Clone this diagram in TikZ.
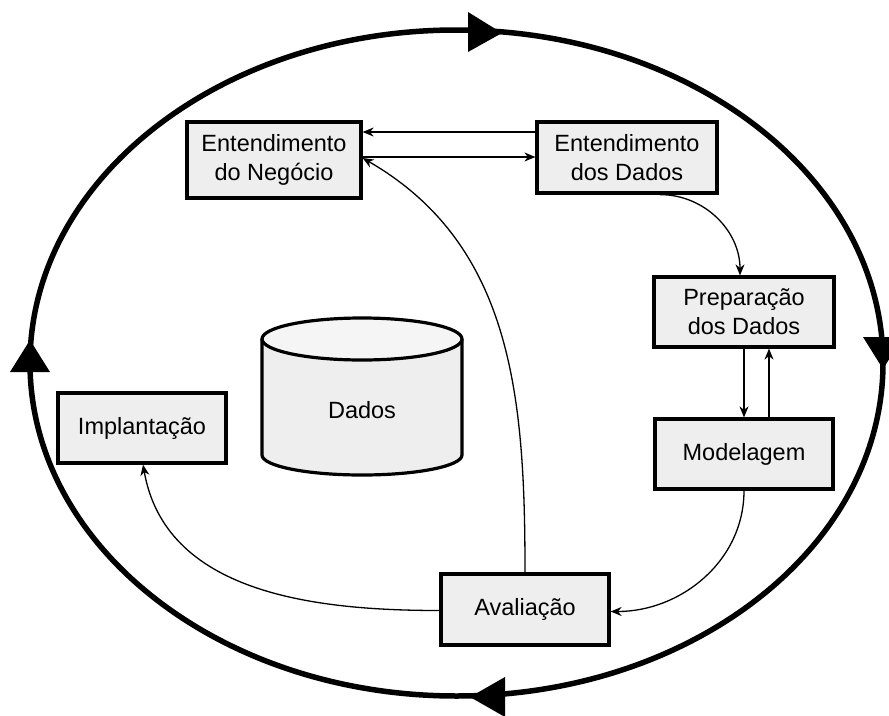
\documentclass[tikz,border=0pt]{standalone}
\usepackage{fontspec}
\setmainfont{Liberation Sans}
\usetikzlibrary{arrows.meta}
\definecolor{boxgray}{HTML}{EEEEEE}
\definecolor{topgray}{HTML}{F5F5F5}
\begin{document}
\begin{tikzpicture}[x=1pt,y=-1pt,
  stagebox/.style={draw=black, line width=3.2pt, fill=boxgray, align=center,
    font=\fontsize{23.5}{29}\selectfont, inner sep=0pt},
  flow/.style={line width=1.3pt, -{Stealth[length=11pt,width=9pt,inset=3.5pt]}},
  cycle/.style={line width=5.5pt},
  cyclehead/.style={fill=black, draw=none}]
\useasboundingbox (0,0) rectangle (889,715);
\clip (0,0) rectangle (889,715);

% outer cycle
\draw[cycle] (456.5,363) ellipse [x radius=426.5, y radius=333];
\fill[cyclehead] (468,12) -- (468,52) -- (502,33) -- cycle;
\fill[cyclehead] (863,337) -- (903,337) -- (883,369) -- cycle;
\fill[cyclehead] (505,677) -- (505,717) -- (470,697) -- cycle;
\fill[cyclehead] (10,372) -- (50,372) -- (30,340) -- cycle;

% stages
\node[stagebox, minimum width=174pt, minimum height=76pt] (neg) at (274,160) {Entendimento\\do Negócio};
\node[stagebox, minimum width=180pt, minimum height=71pt] (dad) at (627,157.5) {Entendimento\\dos Dados};
\node[stagebox, minimum width=180pt, minimum height=70pt] (prep) at (744,312) {Preparação\\dos Dados};
\node[stagebox, minimum width=178pt, minimum height=70pt] (mod) at (744,454) {Modelagem};
\node[stagebox, minimum width=168pt, minimum height=71pt] (aval) at (525,609.5) {Avaliação};
\node[stagebox, minimum width=168pt, minimum height=70pt] (impl) at (142,428) {Implantação};

% data store
\fill[boxgray] (262,339) -- (262,455) arc[start angle=180, end angle=0, x radius=100, y radius=20] -- (462,339) -- cycle;
\draw[line width=3.2pt] (262,339) -- (262,455) arc[start angle=180, end angle=0, x radius=100, y radius=20] -- (462,339);
\draw[line width=3.2pt, fill=topgray] (362,339) ellipse [x radius=100, y radius=21];
\node[font=\fontsize{23.5}{29}\selectfont] (store) at (362,410) {Dados};

% transitions
\draw[flow] (dad.west |- 0,132) -- (neg.east |- 0,132);
\draw[flow] (neg.east |- 0,157) -- (dad.west |- 0,157);
\draw[flow] ([xshift=33pt]dad.south) to[out=0, in=90] ([xshift=-4pt]prep.north);
\draw[flow] (prep.south) -- (mod.north);
\draw[flow] ([xshift=25pt]mod.north) -- ([xshift=25pt]prep.south);
\draw[flow] (mod.south) to[out=-90, in=0] ([yshift=-2pt]aval.east);
\draw[flow] (aval.north) to[out=90, in=-30] (neg.east |- 0,158);
\draw[flow] ([yshift=-1pt]aval.west) to[out=180, in=-80] ([xshift=1pt]impl.south);
\end{tikzpicture}
\end{document}
